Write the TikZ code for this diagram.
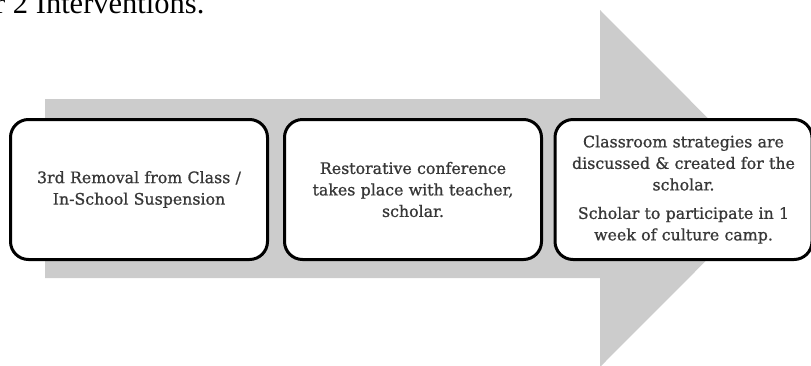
\documentclass[tikz,border=0pt]{standalone}
\usepackage{fontspec}
\setmainfont{DejaVu Serif}
\newfontfamily\boxfont{DejaVu Serif}[FakeBold=0.9]
\newfontfamily\titlefont{Liberation Serif}
\definecolor{arrowgray}{RGB}{204,204,204}
\definecolor{txtgray}{RGB}{55,55,55}
\begin{document}
\begin{tikzpicture}[x=1pt,y=-1pt,
  stepbox/.style={draw=black, line width=3pt, rounded corners=18pt, fill=white,
    minimum width=257pt, minimum height=140pt, inner sep=0pt,
    text width=250pt, align=center, text=txtgray,
    font=\boxfont\fontsize{15.8}{21.5}\selectfont}]
\useasboundingbox (0,0) rectangle (811,365);
\clip (0,0) rectangle (811,365);
\node[anchor=base west, inner sep=0pt, font=\titlefont\fontsize{30.5}{34}\selectfont] (title) at (-5,13) {r 2 Interventions.};
\fill[arrowgray] (45,99) -- (600,99) -- (600,10) -- (778,188.5) -- (600,367) -- (600,278) -- (45,278) -- cycle;
\node[stepbox] (b1) at (139,189.5) {3rd Removal from Class /\\In-School Suspension};
\node[stepbox] (b2) at (413,189.5) {Restorative conference\\takes place with teacher,\\scholar.};
\node[stepbox] (b3) at (683.5,189.5) {Classroom strategies are\\discussed \& created for the\\scholar.\\[7pt]Scholar to participate in 1\\week of culture camp.};
\end{tikzpicture}
\end{document}
